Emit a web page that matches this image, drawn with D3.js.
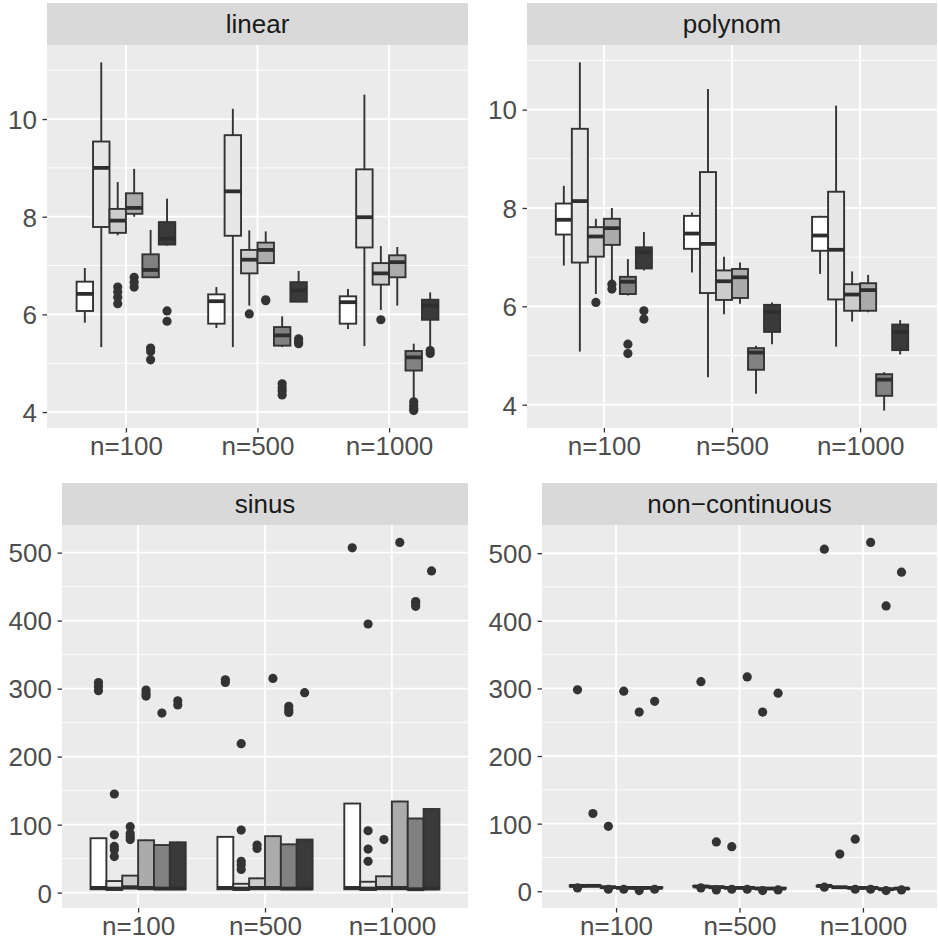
<!DOCTYPE html>
<html>
<head>
<meta charset="utf-8">
<script src="https://cdn.jsdelivr.net/npm/d3@7"></script>
<style>
  body { margin: 0; background: #fff; }
  svg { display: block; font-family: "Liberation Sans", Arial, sans-serif; }
</style>
</head>
<body>
<svg id="canvas"></svg>
<script>
// facet titles, x categories and the six methods (fill from white to dark)
let panelNames = ['linear', 'polynom', 'sinus', 'non\u2212continuous'];
let sizes = ['n=100', 'n=500', 'n=1000'];
let methods = ['m1', 'm2', 'm3', 'm4', 'm5', 'm6'];
let fills = ['#FFFFFF', '#E7E7E7', '#CCCCCC', '#ABABAB', '#818181', '#3A3A3A'];

// y tick labels
let smallTicks = [4, 6, 8, 10];
let bigTicks = [0, 100, 200, 300, 400, 500];

// box stats per size, per method: [lower whisker, q1, median, q3, upper whisker]
let linearBoxes = [
    [[5.83, 6.07, 6.42, 6.67, 6.95], [5.33, 7.79, 9.0, 9.54, 11.16], [7.62, 7.67, 7.92, 8.16, 8.71],
     [8.0, 8.06, 8.18, 8.48, 8.98], [6.76, 6.76, 6.91, 7.23, 7.73], [7.41, 7.43, 7.55, 7.89, 8.37]],
    [[5.72, 5.81, 6.27, 6.41, 6.56], [5.33, 7.61, 8.52, 9.67, 10.21], [6.18, 6.84, 7.12, 7.32, 7.72],
     [7.04, 7.05, 7.32, 7.47, 7.70], [5.33, 5.36, 5.57, 5.74, 5.96], [6.25, 6.26, 6.49, 6.66, 6.89]],
    [[5.70, 5.81, 6.25, 6.37, 6.52], [5.35, 7.37, 7.99, 8.97, 10.5], [6.09, 6.61, 6.84, 7.05, 7.40],
     [6.18, 6.76, 7.07, 7.21, 7.38], [4.27, 4.85, 5.12, 5.25, 5.40], [5.29, 5.89, 6.18, 6.30, 6.45]]
];
let linearOut = [
    [[], [], [6.56, 6.46, 6.35, 6.22], [6.76, 6.66, 6.56], [5.31, 5.24, 5.07], [6.07, 5.86]],
    [[], [], [6.01], [6.30, 6.28], [4.58, 4.50, 4.43, 4.35], [5.50, 5.44, 5.40]],
    [[], [], [5.89], [], [4.21, 4.14, 4.08, 4.03], [5.26, 5.20]]
];

let polyBoxes = [
    [[6.83, 7.46, 7.76, 8.09, 8.45], [5.08, 6.89, 8.14, 9.61, 10.96], [6.25, 7.01, 7.42, 7.61, 7.78],
     [6.49, 7.25, 7.59, 7.78, 8.0], [6.22, 6.25, 6.50, 6.60, 6.96], [6.73, 6.77, 7.10, 7.20, 7.51]],
    [[6.69, 7.17, 7.48, 7.84, 7.91], [4.56, 6.27, 7.27, 8.73, 10.42], [5.84, 6.13, 6.51, 6.73, 7.01],
     [6.05, 6.17, 6.59, 6.76, 6.89], [4.22, 4.71, 5.06, 5.15, 5.20], [5.23, 5.48, 5.88, 6.03, 6.08]],
    [[6.66, 7.13, 7.44, 7.82, 7.84], [5.18, 6.14, 7.15, 8.33, 10.08], [5.69, 5.91, 6.24, 6.45, 6.71],
     [5.88, 5.91, 6.33, 6.47, 6.64], [3.88, 4.18, 4.51, 4.62, 4.66], [5.02, 5.11, 5.48, 5.63, 5.72]]
];
let polyOut = [
    [[], [], [6.08], [6.45, 6.35], [5.23, 5.04], [5.91, 5.74]],
    [[], [], [], [], [], []],
    [[], [], [], [], [], []]
];

let sinusBoxes = [
    [[4, 5, 7, 80, 81], [3, 4, 6, 17, 18], [5, 6, 8, 25, 26],
     [4, 5, 7, 77, 78], [4, 5, 6, 70, 71], [4, 5, 6, 74, 75]],
    [[4, 5, 7, 82, 83], [3, 4, 6, 13, 14], [4, 5, 7, 21, 22],
     [4, 5, 7, 83, 84], [4, 5, 6, 71, 72], [4, 5, 6, 78, 79]],
    [[4, 5, 7, 131, 132], [3, 4, 6, 16, 17], [4, 5, 7, 24, 25],
     [4, 5, 7, 134, 135], [3, 4, 5, 109, 110], [4, 5, 6, 123, 124]]
];
let sinusOut = [
    [[309, 303, 297], [145, 85, 68, 63, 53], [97, 87, 82, 78], [298, 293, 289], [264], [282, 276]],
    [[313, 309], [219, 92, 46, 41, 34], [70, 65], [315], [274, 269, 265], [294]],
    [[507], [395, 91, 64, 46], [78], [515], [428, 425, 421], [473]]
];

let ncBoxes = [
    [[7, 7, 8, 9, 9], [7, 8, 8, 9, 9], [5, 5, 6, 6, 7],
     [5, 5, 5, 6, 6], [4, 4, 5, 5, 6], [4, 5, 5, 6, 6]],
    [[6, 7, 7, 8, 8], [5, 6, 6, 7, 7], [4, 5, 5, 6, 6],
     [4, 5, 5, 5, 6], [3, 4, 4, 5, 5], [3, 4, 4, 5, 5]],
    [[7, 7, 8, 8, 9], [5, 6, 6, 6, 7], [4, 5, 5, 5, 6],
     [4, 5, 5, 5, 6], [2, 3, 3, 4, 4], [3, 4, 4, 4, 5]]
];
let ncOut = [
    [[298, 5], [115], [96, 3], [296, 3], [265, 1], [281, 3]],
    [[310, 5], [73, 2], [66, 3], [317, 3], [265, 1], [293, 2]],
    [[506, 6], [55], [77, 3], [516, 3], [422, 1], [472, 2]]
];

let boxesByPanel = [linearBoxes, polyBoxes, sinusBoxes, ncBoxes];
let outByPanel = [linearOut, polyOut, sinusOut, ncOut];
let ticksByPanel = [smallTicks, smallTicks, bigTicks, bigTicks];

// panel frames in pixels (strip top, panel top/bottom, left/right)
let width = 938;
let height = 946;
let frames = [
    {l: 47, r: 468, st: 3, t: 45, b: 428},
    {l: 527, r: 937, st: 3, t: 45, b: 428},
    {l: 62, r: 468, st: 483, t: 525, b: 908},
    {l: 542, r: 937, st: 483, t: 525, b: 908}
];

let fontSize = 26;
let ink = '#333333';

let canvas = d3.select('#canvas')
    .attr('width', width)
    .attr('height', height);

let drawPanel = (i) => {
    let f = frames[i];
    let boxes = boxesByPanel[i];
    let outs = outByPanel[i];
    let ticks = ticksByPanel[i];

    // y domain from data, expanded 5% like ggplot
    let all = [];
    boxes.forEach(s => s.forEach(b => all.push(...b)));
    outs.forEach(s => s.forEach(o => all.push(...o)));
    let lo = d3.min(all), hi = d3.max(all);
    let pad = (hi - lo) * 0.05;
    let yScale = d3.scaleLinear().domain([lo - pad, hi + pad]).range([f.b, f.t]);

    let xScale = d3.scalePoint().domain(sizes).range([f.l, f.r]).padding(0.6);
    let step = xScale.step();
    let dodge = d3.scaleBand().domain(methods).range([-0.375 * step, 0.375 * step]).padding(0);
    let bw = dodge.bandwidth();

    let g = canvas.append('g');

    // panel background + strip
    g.append('rect')
        .attr('x', f.l).attr('y', f.t)
        .attr('width', f.r - f.l).attr('height', f.b - f.t)
        .attr('fill', '#EBEBEB');
    g.append('rect')
        .attr('x', f.l).attr('y', f.st)
        .attr('width', f.r - f.l).attr('height', f.t - f.st)
        .attr('fill', '#D9D9D9');
    g.append('text')
        .attr('x', (f.l + f.r) / 2).attr('y', f.st + 30)
        .attr('text-anchor', 'middle')
        .attr('font-size', fontSize)
        .attr('fill', '#1A1A1A')
        .text(panelNames[i]);

    // minor grid: midpoints between major ticks, plus one each side if inside
    let gap = ticks[1] - ticks[0];
    let minor = [ticks[0] - gap / 2, ...ticks.map(t => t + gap / 2)];
    let dom = yScale.domain();
    minor = minor.filter(v => v >= dom[0] && v <= dom[1]);

    g.selectAll('.minor')
        .data(minor)
        .enter()
        .append('line')
        .attr('x1', f.l).attr('x2', f.r)
        .attr('y1', d => yScale(d)).attr('y2', d => yScale(d))
        .attr('stroke', '#FFFFFF').attr('stroke-width', 0.9);
    g.selectAll('.major')
        .data(ticks)
        .enter()
        .append('line')
        .attr('x1', f.l).attr('x2', f.r)
        .attr('y1', d => yScale(d)).attr('y2', d => yScale(d))
        .attr('stroke', '#FFFFFF').attr('stroke-width', 1.8);
    g.selectAll('.vmajor')
        .data(sizes)
        .enter()
        .append('line')
        .attr('x1', d => xScale(d)).attr('x2', d => xScale(d))
        .attr('y1', f.t).attr('y2', f.b)
        .attr('stroke', '#FFFFFF').attr('stroke-width', 1.8);

    // boxes
    sizes.forEach((s, si) => {
        methods.forEach((m, mi) => {
            let b = boxes[si][mi];
            let cx = xScale(s) + dodge(m) + bw / 2;
            let bx = xScale(s) + dodge(m);
            let bg = g.append('g');
            bg.append('line')
                .attr('x1', cx).attr('x2', cx)
                .attr('y1', yScale(b[4])).attr('y2', yScale(b[3]))
                .attr('stroke', ink).attr('stroke-width', 1.9);
            bg.append('line')
                .attr('x1', cx).attr('x2', cx)
                .attr('y1', yScale(b[1])).attr('y2', yScale(b[0]))
                .attr('stroke', ink).attr('stroke-width', 1.9);
            bg.append('rect')
                .attr('x', bx).attr('y', yScale(b[3]))
                .attr('width', bw).attr('height', Math.max(0.5, yScale(b[1]) - yScale(b[3])))
                .attr('fill', fills[mi])
                .attr('stroke', ink).attr('stroke-width', 1.9);
            bg.append('line')
                .attr('x1', bx).attr('x2', bx + bw)
                .attr('y1', yScale(b[2])).attr('y2', yScale(b[2]))
                .attr('stroke', '#2E2E2E').attr('stroke-width', 3.8);
            bg.selectAll('circle')
                .data(outs[si][mi])
                .enter()
                .append('circle')
                .attr('cx', cx)
                .attr('cy', d => yScale(d))
                .attr('r', 4.6)
                .attr('fill', ink);
        });
    });

    // axes
    let yAxis = d3.axisLeft(yScale).tickValues(ticks).tickSize(4.5).tickPadding(5.5);
    let xAxis = d3.axisBottom(xScale).tickSize(4.5).tickPadding(4.5);

    let ya = g.append('g')
        .attr('transform', 'translate(' + f.l + ',0)')
        .call(yAxis);
    let xa = g.append('g')
        .attr('transform', 'translate(0,' + f.b + ')')
        .call(xAxis);

    [ya, xa].forEach(a => {
        a.select('.domain').remove();
        a.selectAll('line').attr('stroke', ink).attr('stroke-width', 1.3);
        a.selectAll('text')
            .attr('font-size', fontSize)
            .attr('font-family', '"Liberation Sans", Arial, sans-serif')
            .attr('fill', '#4D4D4D');
    });
    ya.selectAll('text').attr('dy', '0.36em');
}

panelNames.forEach((p, i) => drawPanel(i));
</script>
</body>
</html>
